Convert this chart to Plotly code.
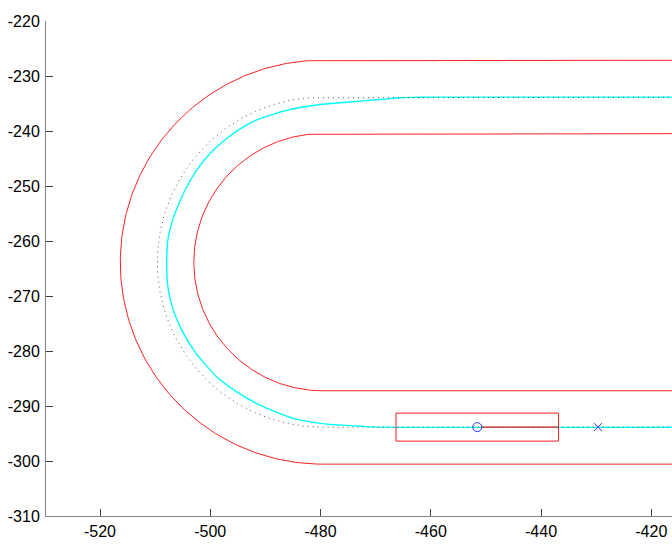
import numpy as np
import plotly.graph_objects as go

# ---- data ----
track_center_x = -479.6
track_center_y = -263.85
outer_radius = 36.72
center_radius = 30.0
inner_radius = 23.38
track_right_end = -405.0

# planned path (cyan)
path_x = [-405.0, -460.0, -463.5, -465.58, -468.67, -474.65, -480.09, -485.54, -490.98, -494.01,
          -497.02, -500.05, -502.46, -504.58, -506.40, -507.61, -507.90, -507.61, -506.70,
          -505.18, -502.77, -498.85, -495.20, -490.98, -484.94, -478.89, -472.84, -471.03,
          -405.0]
path_y = [-233.85, -233.85, -233.88, -233.95, -234.23, -234.72, -235.19, -236.10, -237.74, -239.26,
          -241.37, -244.10, -247.13, -250.77, -255.00, -259.25, -264.09, -268.94, -272.57,
          -276.21, -280.15, -284.69, -287.42, -289.84, -292.25, -293.29, -293.65, -293.80,
          -293.85]

vehicle_x = -451.57
vehicle_y = -293.84
vehicle_length = 29.48
vehicle_width = 5.09
target_x = -429.67
target_y = -293.84

x_tick_vals = [-520, -500, -480, -460, -440, -420]
x_tick_labels = ["-520", "-500", "-480", "-460", "-440", "-420"]
y_tick_vals = [-310, -300, -290, -280, -270, -260, -250, -240, -230, -220]
y_tick_labels = ["-310", "-300", "-290", "-280", "-270", "-260", "-250", "-240", "-230", "-220"]


def track_loop(r):
    th = np.linspace(np.pi / 2, 3 * np.pi / 2, 181)
    xs = [track_right_end] + list(track_center_x + r * np.cos(th)) + [track_right_end]
    ys = [track_center_y + r] + list(track_center_y + r * np.sin(th)) + [track_center_y - r]
    return xs, ys


fig = go.Figure()

for r in (outer_radius, inner_radius):
    xs, ys = track_loop(r)
    fig.add_trace(go.Scatter(x=xs, y=ys, mode="lines",
                             line=dict(color="#ff2020", width=1), hoverinfo="skip"))

# planned path
fig.add_trace(go.Scatter(x=path_x, y=path_y, mode="lines", line_shape="spline",
                         line=dict(color="#00ffff", width=1.4, smoothing=0.6), hoverinfo="skip"))

# lane centre line (dotted)
cx, cy = track_loop(center_radius)
fig.add_trace(go.Scatter(x=cx, y=cy, mode="lines",
                         line=dict(color="#555555", width=1, dash="1px,4px"), hoverinfo="skip"))

# vehicle body
hl, hw = vehicle_length / 2, vehicle_width / 2
fig.add_trace(go.Scatter(
    x=[vehicle_x - hl, vehicle_x + hl, vehicle_x + hl, vehicle_x - hl, vehicle_x - hl],
    y=[vehicle_y + hw, vehicle_y + hw, vehicle_y - hw, vehicle_y - hw, vehicle_y + hw],
    mode="lines", line=dict(color="#ff2020", width=1), hoverinfo="skip"))
# heading line
fig.add_trace(go.Scatter(x=[vehicle_x + 0.8, vehicle_x + hl], y=[vehicle_y, vehicle_y], mode="lines",
                         line=dict(color="#ff2020", width=1.2), hoverinfo="skip"))
# vehicle reference point and target point
fig.add_trace(go.Scatter(x=[vehicle_x], y=[vehicle_y], mode="markers",
                         marker=dict(symbol="circle-open", size=9, color="#3030ff",
                                     line=dict(width=1, color="#3030ff")), hoverinfo="skip"))
fig.add_trace(go.Scatter(x=[target_x], y=[target_y], mode="markers",
                         marker=dict(symbol="x-thin-open", size=8, color="#3030ff",
                                     line=dict(width=1, color="#3030ff")), hoverinfo="skip"))

W, H = 672, 545
L, R, T, B = 46, 0, 21, 29
px_per_unit_x = 5.513
x_left = -520 - (100 - L) / px_per_unit_x
x_right = x_left + (W - L - R) / px_per_unit_x

axis_common = dict(showgrid=False, zeroline=False, showline=True, linecolor="#808080",
                   linewidth=1, ticks="inside", ticklen=7, tickcolor="#404040",
                   tickwidth=1, mirror=False,
                   tickfont=dict(family="Liberation Sans, Arial, sans-serif", size=16,
                                 color="#000000"))

fig.update_layout(
    width=W, height=H,
    margin=dict(l=L, r=R, t=T, b=B, pad=0),
    paper_bgcolor="white", plot_bgcolor="white",
    showlegend=False,
    xaxis=dict(range=[x_left, x_right], tickvals=x_tick_vals, ticktext=x_tick_labels,
               ticklabelstandoff=1, **axis_common),
    yaxis=dict(range=[-310, -220], tickvals=y_tick_vals, ticktext=y_tick_labels,
               ticklabelstandoff=2, **axis_common),
)

fig.write_html("out.html")
